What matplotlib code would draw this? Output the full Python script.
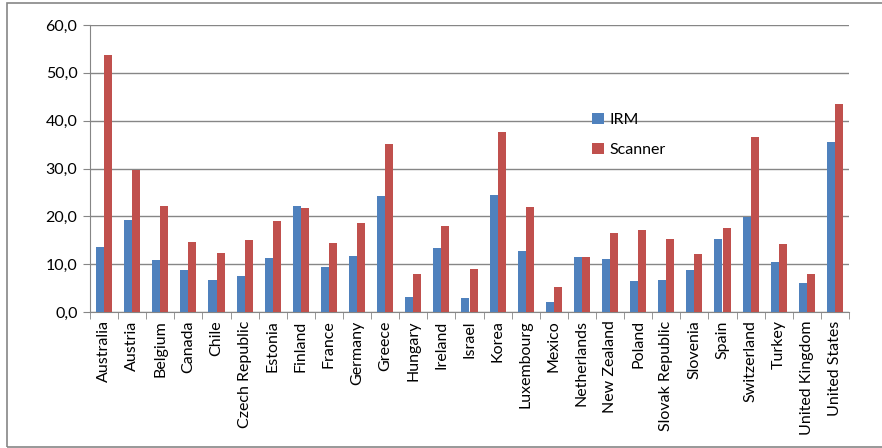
import numpy as np
import matplotlib.pyplot as plt
from matplotlib.patches import Rectangle
from matplotlib.ticker import FuncFormatter

# Données
pays = ['Australia', 'Austria', 'Belgium', 'Canada', 'Chile', 'Czech Republic',
        'Estonia', 'Finland', 'France', 'Germany', 'Greece', 'Hungary', 'Ireland',
        'Israel', 'Korea', 'Luxembourg', 'Mexico', 'Netherlands', 'New Zealand',
        'Poland', 'Slovak Republic', 'Slovenia', 'Spain', 'Switzerland', 'Turkey',
        'United Kingdom', 'United States']
irm = [13.5, 19.3, 10.8, 8.8, 6.6, 7.5, 11.3, 22.1, 9.5, 11.7, 24.3, 3.1, 13.3,
       3.0, 24.4, 12.8, 2.1, 11.4, 11.1, 6.5, 6.6, 8.8, 15.3, 19.9, 10.5, 6.1, 35.5]
scanner = [53.7, 29.6, 22.2, 14.7, 12.3, 15.0, 19.0, 21.7, 14.5, 18.7, 35.2, 7.9, 17.9,
           9.0, 37.6, 22.0, 5.2, 11.4, 16.5, 17.2, 15.3, 12.1, 17.5, 36.5, 14.2, 7.9, 43.4]

plt.rcParams['font.family'] = ['Lato', 'DejaVu Sans']
gris = '#868686'

fig = plt.figure(figsize=(8.82, 4.48), dpi=100)
ax = fig.add_axes([90 / 882, 1 - 312 / 448, (849 - 90) / 882, (312 - 25) / 448])

x = np.arange(len(pays))
w = 0.286
ax.bar(x - w / 2, irm, w, color='#4F81BD', label='IRM', zorder=3)
ax.bar(x + w / 2, scanner, w, color='#C0504D', label='Scanner', zorder=3)

ax.set_xlim(-0.5, len(pays) - 0.5)
ax.set_ylim(0, 60)
ax.set_yticks(np.arange(0, 61, 10))
ax.yaxis.set_major_formatter(FuncFormatter(lambda v, p: f'{v:.1f}'.replace('.', ',')))
ax.yaxis.grid(True, color=gris, linewidth=1, zorder=0)

ax.set_xticks(x)
ax.set_xticklabels(pays, rotation=90, fontsize=11.5)
ax.set_xticks(np.arange(-0.5, len(pays)), minor=True)
ax.tick_params(axis='x', which='major', length=0, pad=6)
ax.tick_params(axis='x', which='minor', length=5, color=gris, direction='out')
ax.tick_params(axis='y', length=5, color=gris, labelsize=11.5, pad=4)

for s in ['top', 'right']:
    ax.spines[s].set_visible(False)
ax.spines['left'].set_color(gris)
ax.spines['bottom'].set_color(gris)

ax.legend(loc='upper left', bbox_to_anchor=(0.643, 0.745), frameon=False,
          fontsize=11.5, handlelength=0.7, handleheight=0.7, labelspacing=1.0,
          handletextpad=0.4)

# cadre du graphique
fig.patches.append(Rectangle((7 / 882, 1 / 448), 2, 1 - 4 / 448, transform=fig.transFigure,
                             fill=False, edgecolor=gris, linewidth=1.2))

fig.savefig('out.png', dpi=100)
